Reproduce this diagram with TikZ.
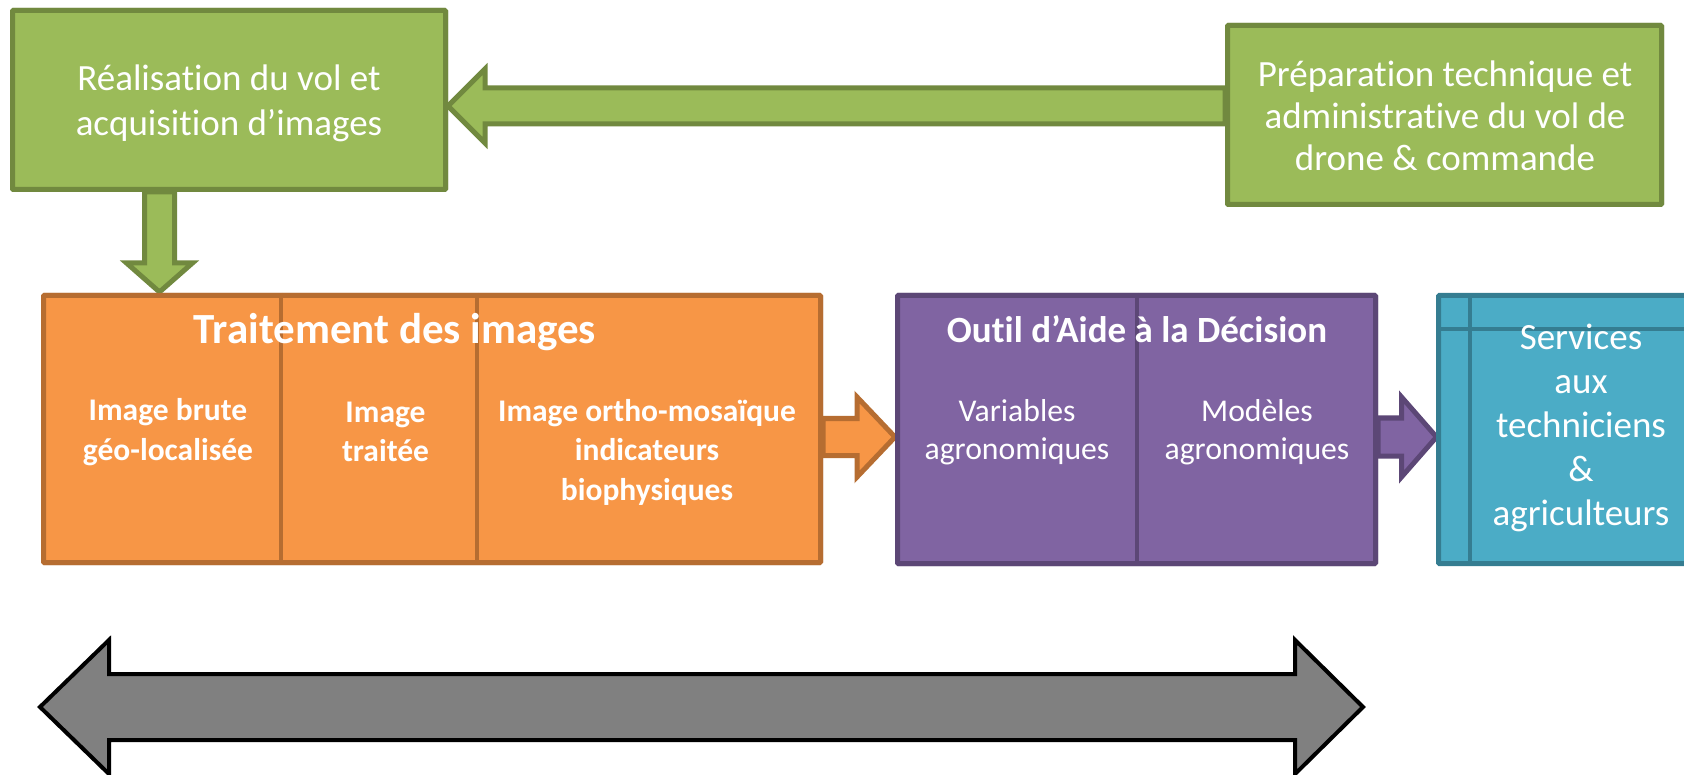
\documentclass[tikz,border=0pt]{standalone}
\usepackage{fontspec}
\setmainfont{Carlito}[Ligatures={NoCommon}]
\usetikzlibrary{calc}
\definecolor{gfill}{HTML}{9BBB59}\definecolor{gline}{HTML}{71893F}
\definecolor{ofill}{HTML}{F79646}\definecolor{oline}{HTML}{B66D31}
\definecolor{pfill}{HTML}{8064A2}\definecolor{pline}{HTML}{5C4776}
\definecolor{tfill}{HTML}{4BACC6}\definecolor{tline}{HTML}{357D91}
\definecolor{afill}{HTML}{808080}
\tikzset{
  box/.style={draw, line width=5pt, rounded corners=1pt, inner sep=0pt, text=white},
  greenbox/.style={box, fill=gfill, draw=gline},
  orangebox/.style={box, fill=ofill, draw=oline},
  purplebox/.style={box, fill=pfill, draw=pline},
  tealbox/.style={box, fill=tfill, draw=tline},
  garrow/.style={fill=gfill, draw=gline, line width=5pt, line join=miter},
  oarrow/.style={fill=ofill, draw=oline, line width=5pt, line join=miter},
  parrow/.style={fill=pfill, draw=pline, line width=5pt, line join=miter},
  grayarrow/.style={fill=afill, draw=black, line width=4pt, line join=miter},
  divider/.style={line width=4pt},
  txt/.style={text=white, align=center, inner sep=0pt},
}
\newcommand{\fs}[2]{\fontsize{#1}{#2}\selectfont}
\begin{document}
\begin{tikzpicture}[x=1pt,y=-1pt]
\useasboundingbox (0,0) rectangle (1684,775);
\clip (0,0) rectangle (1684,775);
% boxes (shapes)
\node[greenbox, minimum width=433pt, minimum height=179pt] (b1) at (229,100) {};
\node[greenbox, minimum width=434pt, minimum height=179pt] (b2) at (1444.5,115) {};
\node[orangebox, minimum width=777pt, minimum height=267pt] (or) at (432,429) {};
\node[purplebox, minimum width=478pt, minimum height=268pt] (pu) at (1136.5,429.5) {};
% block arrows
\coordinate (t1) at ($(b1.east)+(0,6)$);
\coordinate (s1) at (b2.west |- t1);
\path[garrow] ($(s1)+(0,-18)$) -- ($(t1)+(37,-18)$) -- ($(t1)+(37,-37)$) -- (t1)
  -- ($(t1)+(37,37)$) -- ($(t1)+(37,18)$) -- ($(s1)+(0,18)$) -- cycle;
\coordinate (d0) at ($(b1.south west)+(149.5,0)$);
\coordinate (d1) at ($(d0 |- or.north)+(0,-1)$);
\path[garrow] ($(d0)+(-15,0)$) -- ($(d1)+(-15,-29)$) -- ($(d1)+(-33,-29)$) -- (d1)
  -- ($(d1)+(33,-29)$) -- ($(d1)+(15,-29)$) -- ($(d0)+(15,0)$) -- cycle;
\coordinate (o0) at (or.east |- 0,437);
\coordinate (o1) at (pu.west |- o0);
\path[oarrow] ($(o0)+(0,-18.5)$) -- ($(o1)+(-38,-18.5)$) -- ($(o1)+(-38,-40)$) -- (o1)
  -- ($(o1)+(-38,40)$) -- ($(o1)+(-38,18.5)$) -- ($(o0)+(0,18.5)$) -- cycle;
\coordinate (te) at (1438.5,437);
\coordinate (p0) at (pu.east |- te);
\path[parrow] ($(p0)+(0,-19)$) -- ($(te)+(-37,-19)$) -- ($(te)+(-37,-40)$) -- ($(te)+(-2,0)$)
  -- ($(te)+(-37,40)$) -- ($(te)+(-37,19)$) -- ($(p0)+(0,19)$) -- cycle;
% boxes again on top of the arrow bases
\node[greenbox, minimum width=433pt, minimum height=179pt] at (b1) {};
\node[greenbox, minimum width=434pt, minimum height=179pt] at (b2) {};
\node[orangebox, minimum width=777pt, minimum height=267pt] at (or) {};
\node[purplebox, minimum width=478pt, minimum height=268pt] at (pu) {};
% teal box (runs off the right edge)
\path[tealbox] (1438.5,295.5) rectangle (1720,563.5);
\draw[tline, divider] (1470,295.5) -- (1470,563.5);
\draw[tline, divider] (1438.5,329) -- (1720,329);
% dividers
\draw[oline, divider] (or.north west -| 281,0) -- (or.south west -| 281,0);
\draw[oline, divider] (or.north west -| 477,0) -- (or.south west -| 477,0);
\draw[pline, divider] (pu.north -| 1137,0) -- (pu.south -| 1137,0);
% texts
\node[txt, font=\fs{37}{45}] (tb1) at (229,103) {Réalisation du vol et\\acquisition d’images};
\node[txt, font=\fs{37}{42}] (tb2) at (1445,116) {Préparation technique et\\administrative du vol de\\drone \& commande};
\node[txt, font=\bfseries\fs{43}{45}] (tor) at (395,332) {Traitement des images};
\node[txt, font=\bfseries\fs{31.5}{39.5}] (o1t) at (168,432) {Image brute\\géo-localisée};
\node[txt, font=\bfseries\fs{31.5}{39.5}] (o2t) at (385.5,432) {Image\\traitée};
\node[txt, font=\bfseries\fs{31.5}{39.5}] (o3t) at (647,452) {Image ortho-mosaïque\\indicateurs\\biophysiques};
\node[txt, font=\bfseries\fs{37}{40}] (tpu) at (1137,329) {Outil d’Aide à la Décision};
\node[txt, font=\fs{31.7}{37.5}] (p1t) at (1017,432) {Variables\\agronomiques};
\node[txt, font=\fs{31.7}{37.5}] (p2t) at (1257,432) {Modèles\\agronomiques};
\node[txt, font=\fs{37}{44}] (tt) at (1581,428) {Services\\aux\\techniciens\\\&\\agriculteurs};
% gray double arrow
\coordinate (gl) at (40,707);
\coordinate (gr) at (1363,707);
\path[grayarrow] (gl) -- ($(gl)+(69,-67)$) -- ($(gl)+(69,-33)$) -- ($(gr)+(-68,-33)$) -- ($(gr)+(-68,-67)$)
  -- (gr) -- ($(gr)+(-68,67)$) -- ($(gr)+(-68,33)$) -- ($(gl)+(69,33)$) -- ($(gl)+(69,67)$) -- cycle;
\end{tikzpicture}
\end{document}
